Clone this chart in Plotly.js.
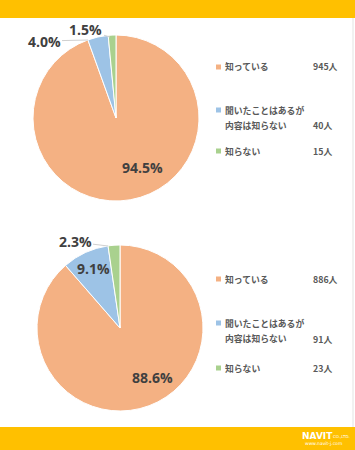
<!DOCTYPE html>
<html>
<head>
<meta charset="utf-8">
<script src="https://cdn.plot.ly/plotly-3.0.1.min.js"></script>
<style>html,body{margin:0;padding:0;background:#fff;}#chart{width:355px;height:450px;}</style>
</head>
<body>
<div id="chart"></div>
<script>
// Data
const categories = ['知っている', '聞いたことはあるが<br>内容は知らない', '知らない'];
const counts1 = [945, 40, 15];
const counts2 = [886, 91, 23];
const colors = ['#F4B183', '#9DC3E6', '#A9D18E'];

const W = 355, H = 450;
const px = x => x / W;
const py = y => 1 - y / H;

function pie(values, domain) {
  return {
    type: 'pie',
    labels: categories,
    values: values,
    sort: false,
    direction: 'clockwise',
    rotation: 0,
    domain: domain,
    marker: {colors: colors, line: {color: '#ffffff', width: 1}},
    textinfo: 'none',
    hoverinfo: 'none',
    showlegend: false,
    automargin: false
  };
}

const data = [
  pie(counts1, {x: [px(33), px(199)], y: [py(201), py(35)]}),
  pie(counts2, {x: [px(37), px(203)], y: [py(411), py(245)]})
];

const shapes = [
  {type: 'rect', xref: 'paper', yref: 'paper', x0: 0, x1: 1, y0: py(18), y1: 1, fillcolor: '#FFC000', line: {width: 0}},
  {type: 'rect', xref: 'paper', yref: 'paper', x0: 0, x1: 1, y0: 0, y1: py(427), fillcolor: '#FFC000', line: {width: 0}},
  {type: 'line', xref: 'paper', yref: 'paper', x0: px(353), x1: px(353), y0: py(427), y1: py(18), line: {color: '#e3e3e3', width: 1}}
];

const annotations = [];
const pctFont = {family: 'Open Sans, Noto Sans, sans-serif', size: 14, color: '#404040', weight: 'bold'};
function pct(counts, i) {
  const tot = counts.reduce((a, b) => a + b, 0);
  return (counts[i] / tot * 100).toFixed(1) + '%';
}
// label placement: [text x, text y, leader target x, leader target y] (null target = no leader)
function pctLabels(counts, places) {
  places.forEach((p, i) => {
    const a = {xref: 'paper', yref: 'paper', text: pct(counts, i), font: pctFont,
      xanchor: 'center', yanchor: 'middle'};
    if (p[2] === null) {
      Object.assign(a, {x: px(p[0]), y: py(p[1]), showarrow: false});
    } else {
      Object.assign(a, {x: px(p[2]), y: py(p[3]), ax: p[0] - p[2], ay: p[1] - p[3],
        showarrow: true, arrowhead: 0, arrowwidth: 1, arrowcolor: '#d0d0d0', standoff: 0, startstandoff: 0});
    }
    annotations.push(a);
  });
}
pctLabels(counts1, [[142, 168, null, null], [44, 41, 88, 40], [86, 30, 110, 37]]);
pctLabels(counts2, [[152, 377, null, null], [93, 268, null, null], [75, 242, 108, 246]]);

const legendFont = {family: 'Noto Sans CJK JP, sans-serif', size: 8.8, color: '#595959', weight: 'bold'};
function legend(counts, rows, countRows) {
  categories.forEach((c, i) => {
    const lines = c.split('<br>');
    shapes.push({type: 'rect', xref: 'paper', yref: 'paper',
      x0: px(216), x1: px(221), y0: py(rows[i] + 2.5), y1: py(rows[i] - 2.5),
      fillcolor: colors[i], line: {width: 0}});
    lines.forEach((ln, j) => {
      annotations.push({xref: 'paper', yref: 'paper', x: px(223), y: py(rows[i] + j * 15),
        xanchor: 'left', yanchor: 'middle', showarrow: false, text: ln, font: legendFont});
    });
    annotations.push({xref: 'paper', yref: 'paper', x: px(311), y: py(countRows[i]),
      xanchor: 'left', yanchor: 'middle', showarrow: false, text: counts[i] + '人', font: legendFont});
  });
}
legend(counts1, [67, 110, 151], [67, 125, 151]);
legend(counts2, [279, 323, 368], [279, 339, 368]);

annotations.push({xref: 'paper', yref: 'paper', x: px(300), y: py(436), xanchor: 'left', yanchor: 'middle', showarrow: false,
  text: '<b>NAVIT</b>', font: {family: 'DejaVu Sans, sans-serif', size: 9, color: '#ffffff'}});
annotations.push({xref: 'paper', yref: 'paper', x: px(331), y: py(436), xanchor: 'left', yanchor: 'middle', showarrow: false,
  text: 'CO.,LTD.', font: {family: 'DejaVu Sans, sans-serif', size: 4, color: '#ffffff'}});
annotations.push({xref: 'paper', yref: 'paper', x: px(303), y: py(443), xanchor: 'left', yanchor: 'middle', showarrow: false,
  text: 'www.navit-j.com', font: {family: 'DejaVu Sans, sans-serif', size: 4.5, color: '#ffffff'}});

const layout = {
  width: W, height: H,
  margin: {l: 0, r: 0, t: 0, b: 0},
  paper_bgcolor: '#ffffff',
  shapes: shapes,
  annotations: annotations
};

Plotly.newPlot('chart', data, layout, {displayModeBar: false, staticPlot: true});
</script>
</body>
</html>
